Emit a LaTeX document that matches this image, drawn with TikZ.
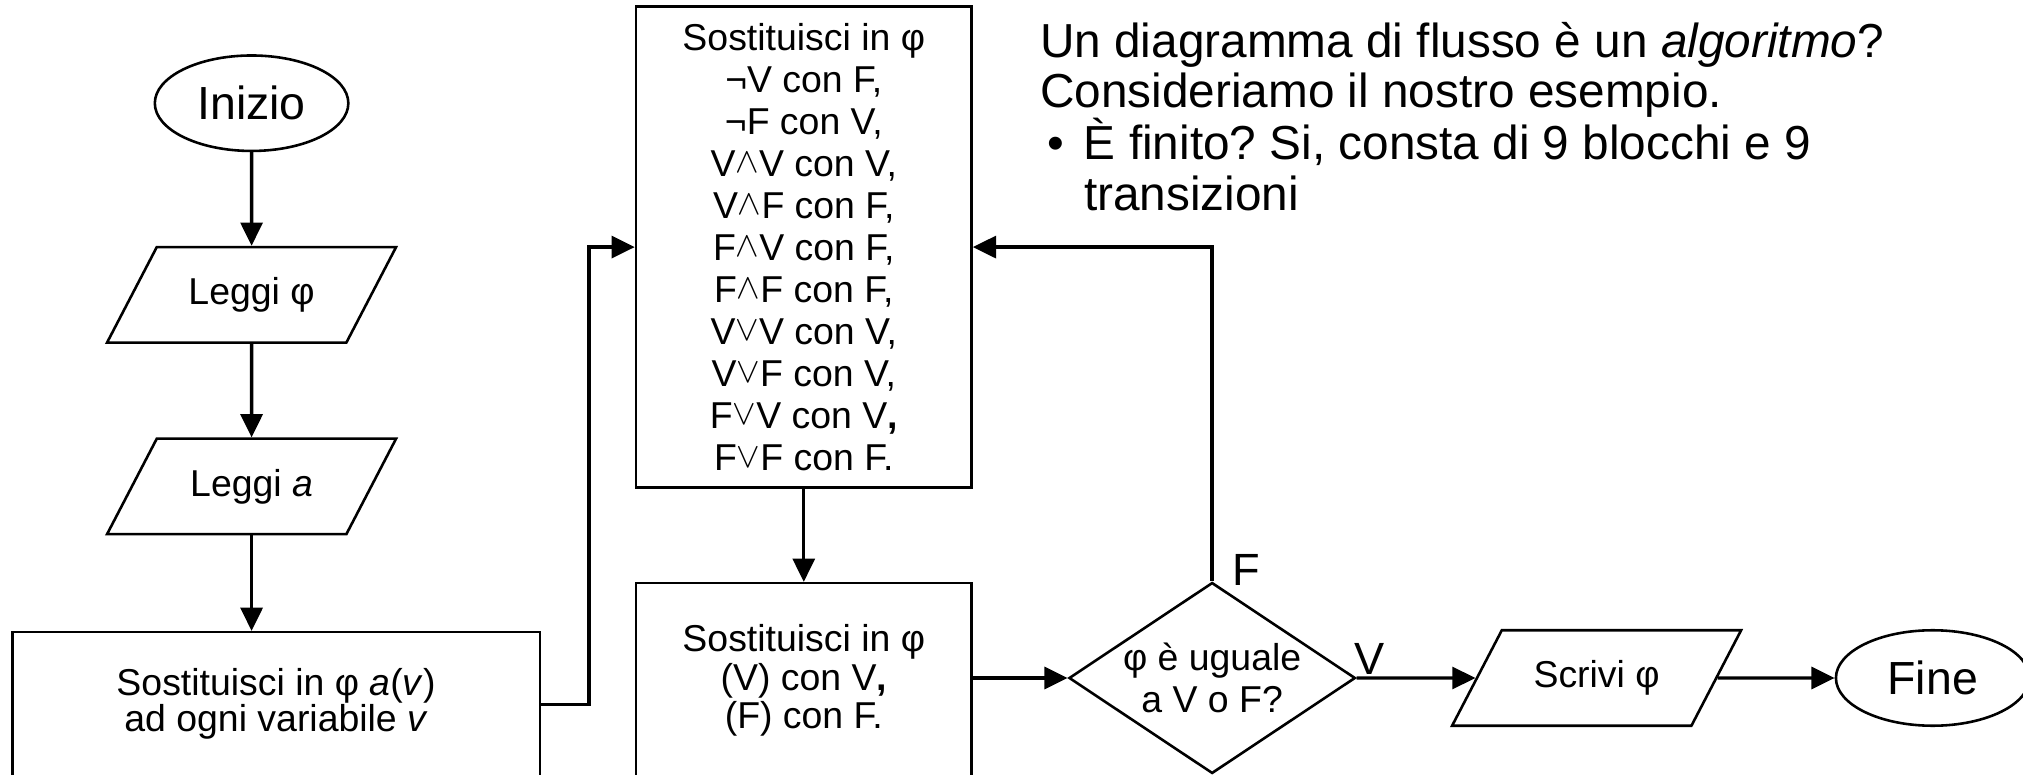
\documentclass[tikz,border=0pt]{standalone}
\usepackage{fontspec}
\setmainfont{Liberation Sans}
\usepackage{graphicx}
\usetikzlibrary{arrows.meta,shapes.geometric,positioning}
\newcommand\conj{\raisebox{0.1em}{\scalebox{1.1}{$\wedge$}}}
\newcommand\disj{\raisebox{0.1em}{\scalebox{1.1}{$\vee$}}}
\frenchspacing

\tikzset{
  block/.style={draw, line width=2pt, align=center, font=\fontsize{29}{30}\selectfont},
  term/.style={block, ellipse, inner sep=0pt, minimum width=150pt, minimum height=74pt, font=\fontsize{36}{40}\selectfont},
  inout/.style={block, trapezium, trapezium left angle=62.5, trapezium right angle=117.5,
    trapezium stretches body=true, minimum width=224pt, inner xsep=0pt, inner ysep=23.5pt,
    text height=21pt, text depth=6pt},
  proc/.style={block, rectangle, inner sep=0pt},
  decision/.style={block, diamond, aspect=1.5, inner sep=-40pt, minimum width=222pt,
    minimum height=148pt, font=\fontsize{29}{32.6}\selectfont},
  flow/.style={line width=2.6pt, -{Triangle[length=18pt,width=17pt]}},
  tag/.style={inner sep=0pt, font=\fontsize{35}{40}\selectfont},
}

\begin{document}
\begin{tikzpicture}[x=1pt, y=-1pt]
  \path[use as bounding box, clip] (0,0) rectangle (1568,600);
  % Left column
  \node[term] (inizio) at (195,80) {Inizio};
  \node[inout] (leggiphi) at (195,228.5) {Leggi φ};
  \node[inout] (leggia) at (195,377) {Leggi \textit{a}};
  \node[proc, anchor=north, minimum width=409pt, text height=77pt, text depth=44pt,
    font=\fontsize{29}{28}\selectfont] (assegna) at (214,489)
    {Sostituisci in φ \textit{a}(\textit{v})\\ ad ogni variabile \textit{v}};
  % Middle column
  \node[proc, minimum width=260pt, minimum height=373pt, font=\fontsize{29}{32.6}\selectfont] (regole) at (623,191.5)
    {Sostituisci in φ\\ ¬V con F,\\ ¬F con V,\\ V\conj V con V,\\ V\conj F con F,\\ F\conj V con F,\\
     F\conj F con F,\\ V\disj V con V,\\ V\disj F con V,\\ F\disj V con V\textbf{,}\\ F\disj F con F.};
  \node[proc, anchor=north, minimum width=260pt, text height=113pt, text depth=46pt] (semplifica) at (623,451)
    {Sostituisci in φ\\ (V) con V\textbf{,}\\ (F) con F.};
  % Right part
  \node[decision] (verifica) at (939.5,525.5) {φ è uguale\\ a V o F?};
  \node[inout] (scrivi) at (1237.5,525.5) {Scrivi φ};
  \node[term] (fine) at (1498,525.5) {Fine};
  \node[tag, anchor=base west] (falso) at ([xshift=15.5pt, yshift=-3.5pt]verifica.north) {F};
  \node[tag, anchor=base west] (vero) at ([xshift=-2pt, yshift=2.5pt]verifica.east) {V};
  % Note
  \node[anchor=base west, align=left, inner sep=0pt, font=\fontsize{37}{39}\selectfont] (nota) at (806,163)
    {Un diagramma di flusso è un \textit{algoritmo}?\\ Consideriamo il nostro esempio.\\
     \hspace*{6pt}\makebox[28pt][l]{•}È finito? Si, consta di 9 blocchi e 9\\ \hspace*{34pt}transizioni};
  % Connectors
  \draw[flow] (inizio) -- (leggiphi);
  \draw[flow] (leggiphi) -- (leggia);
  \draw[flow] (leggia) -- (leggia |- assegna.north);
  \draw[flow] ([yshift=4.5pt]assegna.east) -- ++(37,0) |- (regole.west);
  \draw[flow] (regole) -- (semplifica);
  \draw[flow] (semplifica.east |- verifica.west) -- (verifica.west);
  \draw[flow] (verifica.north) |- (regole.east);
  \draw[flow] (verifica.east) -- (scrivi.west);
  \draw[flow] (scrivi.east) -- (fine.west);
\end{tikzpicture}
\end{document}
